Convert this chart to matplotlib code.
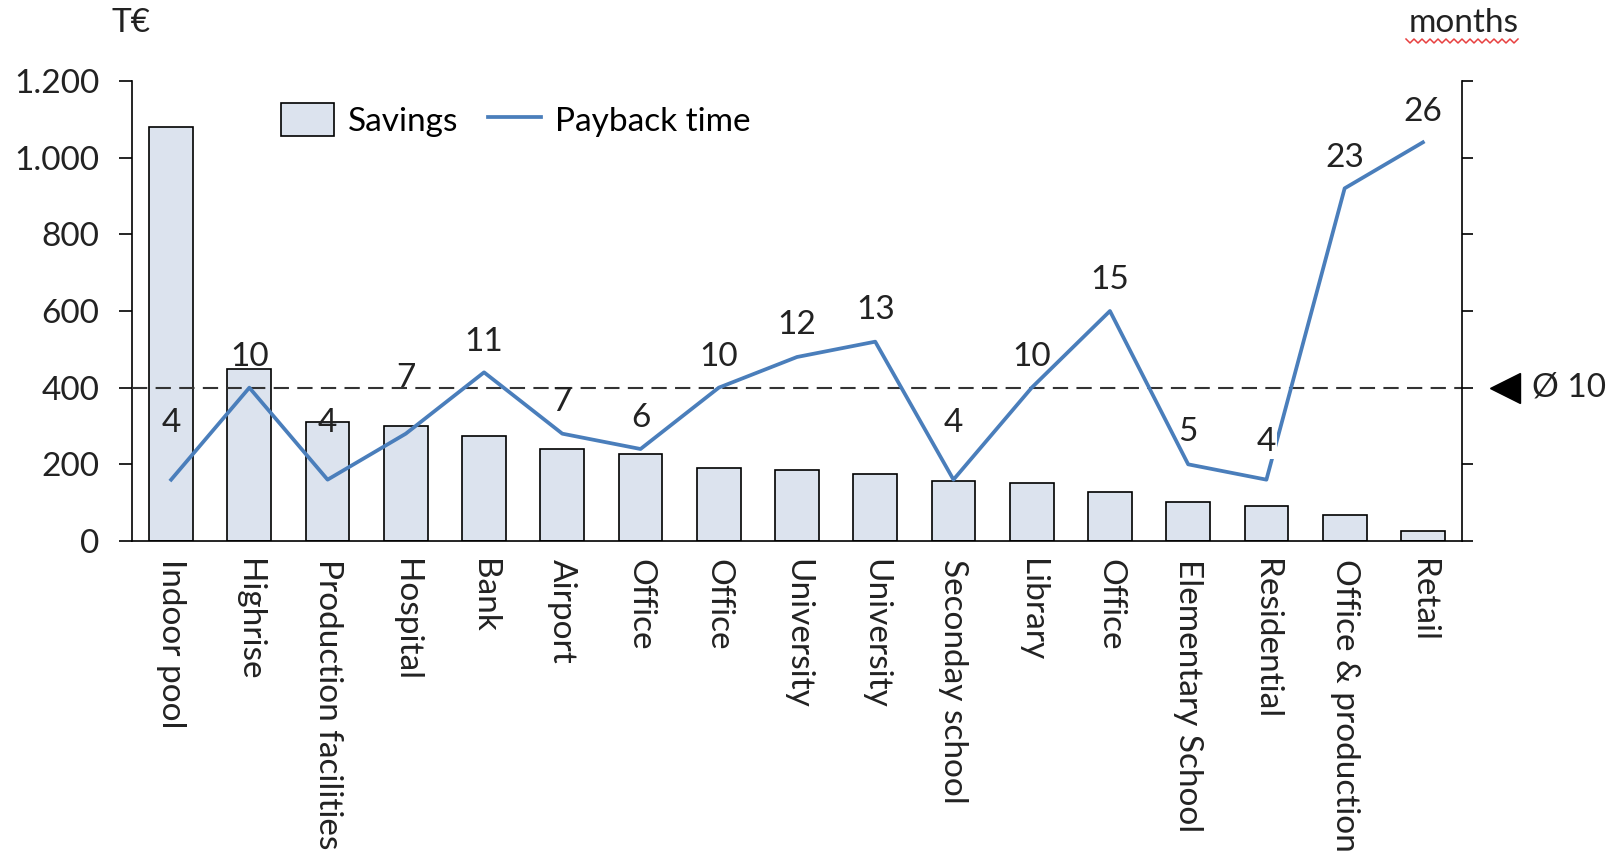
"""Savings per building and payback time, bar + line chart on twin axes."""

import matplotlib
matplotlib.use("Agg")
import matplotlib.pyplot as plt
import matplotlib.transforms as mtransforms
from matplotlib.ticker import FuncFormatter, MultipleLocator
from matplotlib.lines import Line2D
import numpy as np

plt.rcParams['font.family'] = ['Lato', 'DejaVu Sans']
plt.rcParams['lines.scale_dashes'] = False

buildings = ['Indoor pool', 'Highrise', 'Production facilities', 'Hospital', 'Bank',
             'Airport', 'Office', 'Office', 'University', 'University',
             'Seconday school', 'Library', 'Office', 'Elementary School',
             'Residential', 'Office & production', 'Retail']
savings = [1080, 450, 310, 300, 275, 240, 226, 191, 186, 175, 157, 151, 127, 102, 92, 67, 27]
payback = [4, 10, 4, 7, 11, 7, 6, 10, 12, 13, 4, 10, 15, 5, 4, 23, 26]

# label distance above each point, in points
label_lift = [41, 22, 41, 40, 22, 23, 22, 22, 23, 23, 41, 22, 22, 23, 27, 22, 22]

BAR_FILL = '#dce3ee'
LINE_BLUE = '#4a7ebb'
TEXT = '#222222'
FS = 24

W, H = 1612, 864
fig = plt.figure(figsize=(W / 100, H / 100), dpi=100)
ax = fig.add_axes([132 / W, 1 - 541 / H, 1330 / W, 460 / H])
ax2 = ax.twinx()

x = np.arange(len(buildings))
ax.bar(x, savings, width=0.56, color=BAR_FILL, edgecolor='black', linewidth=1.2,
       label='Savings', zorder=2)
ax.set_xlim(-0.5, len(buildings) - 0.5)
ax.set_ylim(0, 1200)
ax.yaxis.set_major_locator(MultipleLocator(200))
ax.yaxis.set_major_formatter(FuncFormatter(lambda v, p: f"{v:,.0f}".replace(",", ".")))
ax.set_xticks(x)
ax.set_xticklabels(buildings, rotation=-90, ha='center', va='top', fontsize=FS, color=TEXT)
ax.tick_params(axis='x', length=0, pad=13)
ax.tick_params(axis='y', direction='out', length=9.5, width=1.2, pad=14,
               labelsize=FS, labelcolor=TEXT)
for side in ['top', 'right']:
    ax.spines[side].set_visible(False)
for side in ['left', 'bottom']:
    ax.spines[side].set_linewidth(1.2)

# payback line on the right axis (months), scaled so 10 months sits at 400 T€
ax2.set_ylim(0, 30)
ax2.yaxis.set_major_locator(MultipleLocator(5))
ax2.tick_params(axis='y', direction='out', length=8, width=1.2, labelright=False)
for side in ['top', 'left', 'bottom']:
    ax2.spines[side].set_visible(False)
ax2.spines['right'].set_linewidth(1.2)

ax2.plot(x, payback, color=LINE_BLUE, linewidth=2.7, solid_joinstyle='round',
         label='Payback time', zorder=3)
for i, (xi, val) in enumerate(zip(x, payback)):
    box = None
    if buildings[i] == 'Residential':
        box = dict(facecolor='white', edgecolor='none', pad=1)
    ax2.annotate(str(val), (xi, val), xytext=(0, label_lift[i]), textcoords='offset points',
                 ha='center', va='center', fontsize=FS, color=TEXT, bbox=box, zorder=4)

avg = round(sum(payback) / len(payback))
ax2.axhline(avg, color='#333333', linewidth=1.5, dashes=(11, 6), zorder=1)
blend = mtransforms.blended_transform_factory(ax2.transAxes, ax2.transData)
ax2.plot([1.0323], [avg], marker='<', markersize=21, color='black', transform=blend,
         clip_on=False)
ax2.text(1.0526, avg, f"Ø {avg}", transform=blend, ha='left', va='center',
         fontsize=FS, color=TEXT)

# legend
h1, l1 = ax.get_legend_handles_labels()
h2, l2 = ax2.get_legend_handles_labels()
ax.legend(h1 + h2, l1 + l2, ncol=2, frameon=False, fontsize=FS,
          loc='center left', bbox_to_anchor=(281 / W, 1 - 120 / H),
          bbox_transform=fig.transFigure, handlelength=1.6, handleheight=1.15,
          handletextpad=0.4, columnspacing=0.9, borderpad=0, borderaxespad=0)

# unit captions
fig.text(131 / W, 1 - 23 / H, 'T€', ha='center', va='center', fontsize=FS, color=TEXT)
fig.text(1464 / W, 1 - 23 / H, 'months', ha='center', va='center', fontsize=FS, color=TEXT)
zx = np.arange(1406, 1522, 4)
zy = 41 + np.where(np.arange(len(zx)) % 2 == 0, -2, 2)
fig.add_artist(Line2D(zx / W, 1 - zy / H, color='#e84040', linewidth=1.1,
                      transform=fig.transFigure))

fig.savefig('out.png', dpi=100)
